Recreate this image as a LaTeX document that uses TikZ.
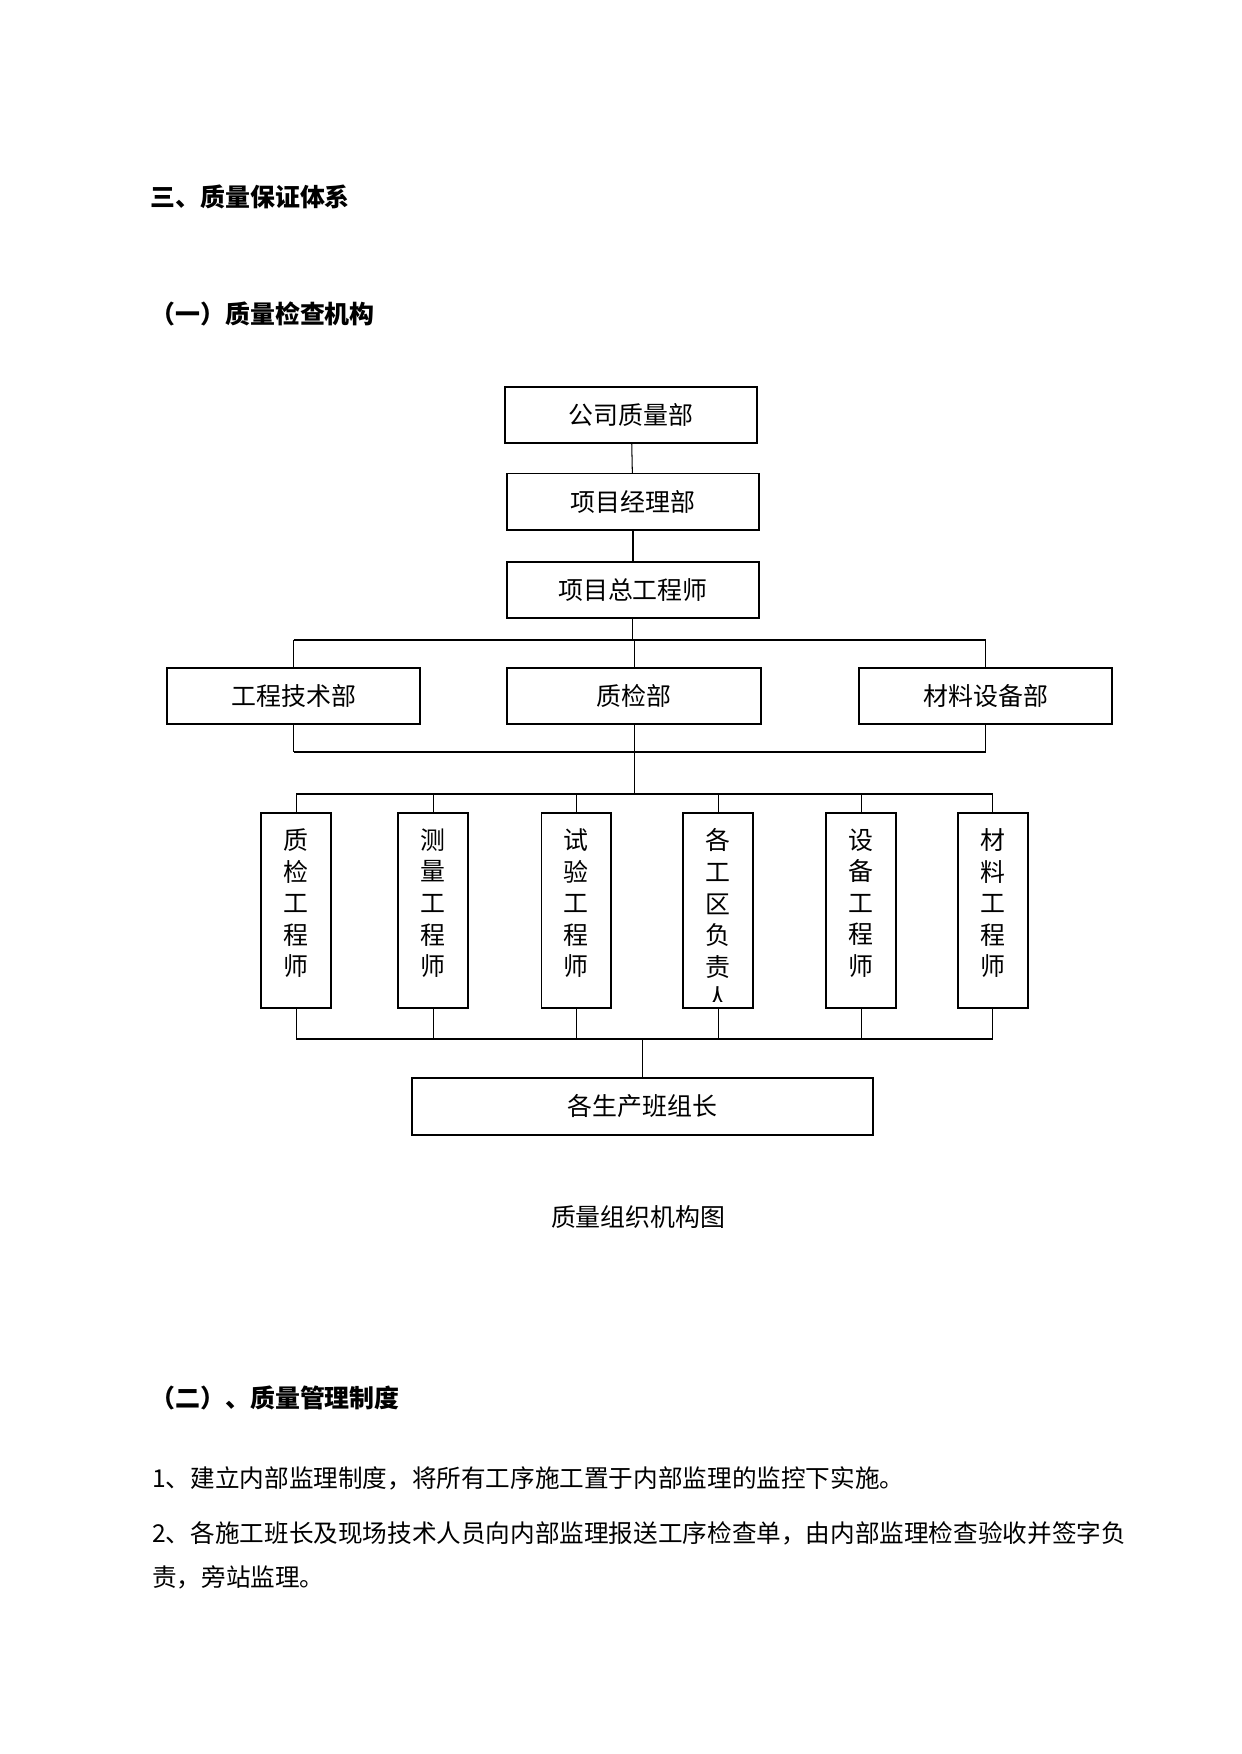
\documentclass[tikz,border=0pt]{standalone}
\usepackage{fontspec}
\setmainfont{Noto Sans CJK SC}
\usepackage{tikz}
\usetikzlibrary{positioning, calc}

\begin{document}
\begin{tikzpicture}[
  box/.style={draw, line width=0.8pt, minimum width=4.26cm, minimum height=0.95cm,
              inner sep=0pt, font=\fontsize{12}{14}\selectfont},
  vbox/.style={draw, line width=0.8pt, minimum width=1.18cm, minimum height=3.30cm, inner sep=0pt},
  vtext/.style={anchor=north, align=center, inner sep=0pt, font=\fontsize{12}{15.2}\selectfont},
  bus/.style={line width=1.1pt},
  link/.style={line width=0.5pt},
  title/.style={anchor=west, inner sep=0pt, font=\fontsize{12}{14}\selectfont\bfseries},
  para/.style={anchor=west, inner sep=0pt, font=\fontsize{11.85}{14}\selectfont},
]
\fill[white] (0,0) rectangle (21,-29.68);
\useasboundingbox (0,0) rectangle (21,-29.68);

% Headings
\node[title] (h1) at (2.54,-3.33) {三、质量保证体系};
\node[title] (h2) at (2.54,-5.31) {（一）质量检查机构};

% Chain
\node[box] (c1) at (10.68,-7.02) {公司质量部};
\node[box] (c2) at (10.71,-8.49) {项目经理部};
\node[box] (c3) at (10.71,-9.98) {项目总工程师};
\draw[link] (c1) -- (c2);
\draw[line width=0.9pt] (c2) -- (c3);

% Departments
\coordinate (bus1) at (10.71,-10.83);
\coordinate (bus2) at (10.71,-12.73);
\node[box, minimum width=4.28cm] (d1) at (4.97,-11.78) {工程技术部};
\node[box, minimum width=4.30cm] (d2) at (10.73,-11.78) {质检部};
\node[box, minimum width=4.28cm] (d3) at (16.68,-11.78) {材料设备部};
\draw[link] (c3) -- (c3 |- bus1);
\draw[bus] (d1 |- bus1) -- (d3 |- bus1);
\draw[bus] (d1 |- bus2) -- (d3 |- bus2);
\foreach \n in {d1, d2, d3} {
  \draw[link] (\n) -- (\n |- bus1);
  \draw[link] (\n) -- (\n |- bus2);
}

% Engineers
\coordinate (bus3) at (10.73,-13.44);
\coordinate (bus4) at (10.87,-17.58);
\draw[link] (d2 |- bus2) -- (d2 |- bus3);
\foreach \x/\txt [count=\i] in {5.01/{质\\检\\工\\程\\师}, 7.33/{测\\量\\工\\程\\师},
    9.75/{试\\验\\工\\程\\师}, 12.15/{各\\工\\区\\负\\责\\人},
    14.57/{设\\备\\工\\程\\师}, 16.80/{材\\料\\工\\程\\师}} {
  \node[vbox] (r\i) at (\x,-15.41) {};
  \begin{scope}
    \clip ($(r\i.south west)+(0,0.13)$) rectangle (r\i.north east);
    \node[vtext] (t\i) at ($(r\i.north)+(0,-0.27)$) {\txt};
  \end{scope}
  \draw[link] (r\i) -- (r\i |- bus3);
  \draw[link] (r\i) -- (r\i |- bus4);
}
\draw[bus] (r1 |- bus3) -- (r6 |- bus3);
\draw[bus] (r1 |- bus4) -- (r6 |- bus4);

% Team leaders
\node[box, minimum width=7.80cm, minimum height=0.96cm] (e1) at (10.87,-18.72) {各生产班组长};
\draw[link] (e1) -- (e1 |- bus4);
\node[font=\fontsize{12}{14}\selectfont] (cap) at (10.80,-20.59) {质量组织机构图};

% Rules
\node[title] (h3) at (2.54,-23.66) {（二）、质量管理制度};
\node[para] (p1) at (2.57,-25.01) {1、建立内部监理制度，将所有工序施工置于内部监理的监控下实施。};
\node[para] (p2) at (2.57,-25.94) {2、各施工班长及现场技术人员向内部监理报送工序检查单，由内部监理检查验收并签字负};
\node[para] (p3) at (2.57,-26.69) {责，旁站监理。};
\end{tikzpicture}
\end{document}
